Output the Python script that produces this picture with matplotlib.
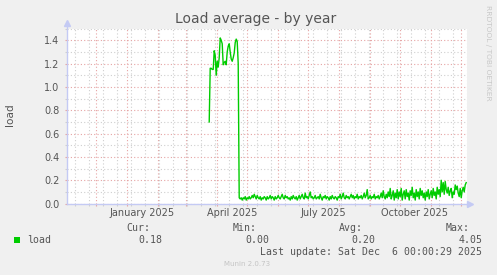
import pandas as pd
import matplotlib
matplotlib.use('Agg')
import matplotlib.pyplot as plt
import matplotlib.dates as mdates
from matplotlib.ticker import MultipleLocator, FixedLocator
from matplotlib.patches import Rectangle

# daily load averages, first sample on 2025-03-24
start = '2025-03-24 12:00'
load_high = [0.70, 1.16, 1.16, 1.15, 1.15, 1.31, 1.27, 1.10, 1.22, 1.17,
             1.25, 1.42, 1.40, 1.37, 1.19, 1.21, 1.22, 1.19, 1.30, 1.35,
             1.37, 1.30, 1.24, 1.22, 1.25, 1.29, 1.38, 1.41, 1.39, 1.20,
             0.05]
load_low = [0.04, 0.05, 0.03, 0.05, 0.04, 0.06, 0.03, 0.05, 0.04,
            0.06, 0.04, 0.05, 0.07, 0.05, 0.08, 0.06, 0.04, 0.07, 0.05,
            0.04, 0.06, 0.03, 0.05, 0.04, 0.06, 0.05, 0.03, 0.06, 0.04,
            0.05, 0.07, 0.04, 0.06, 0.05, 0.03, 0.06, 0.04, 0.05, 0.07,
            0.05, 0.04, 0.06, 0.08, 0.05, 0.04, 0.07, 0.05, 0.06, 0.04,
            0.05, 0.03, 0.06, 0.04, 0.07, 0.05, 0.04, 0.06, 0.03, 0.05,
            0.07, 0.04, 0.06, 0.08, 0.05, 0.04, 0.09, 0.05, 0.06, 0.04,
            0.07, 0.10, 0.05, 0.06, 0.04, 0.05, 0.07, 0.04, 0.05, 0.06,
            0.04, 0.08, 0.05, 0.03, 0.06, 0.05, 0.07, 0.04, 0.06, 0.05,
            0.03, 0.06, 0.04, 0.07, 0.05, 0.04, 0.06, 0.05, 0.03, 0.06,
            0.05, 0.08, 0.04, 0.06, 0.09, 0.05, 0.04, 0.07, 0.05, 0.06,
            0.04, 0.06, 0.08, 0.05, 0.07, 0.04, 0.06, 0.05, 0.08, 0.04,
            0.06, 0.05, 0.07, 0.04, 0.06, 0.09, 0.05, 0.07, 0.12, 0.04,
            0.05, 0.07, 0.04, 0.06, 0.05, 0.08, 0.04, 0.06, 0.05, 0.07,
            0.04, 0.06, 0.09, 0.05, 0.11, 0.06, 0.04, 0.08, 0.05, 0.10,
            0.06, 0.13, 0.04, 0.07, 0.11, 0.03, 0.09, 0.05, 0.12, 0.04,
            0.10, 0.06, 0.13, 0.03, 0.08, 0.11, 0.04, 0.12, 0.06, 0.09,
            0.03, 0.11, 0.07, 0.14, 0.05, 0.09, 0.03, 0.12, 0.06, 0.10,
            0.04, 0.13, 0.07, 0.11, 0.05, 0.09, 0.03, 0.10, 0.06, 0.12,
            0.04, 0.08, 0.11, 0.05, 0.13, 0.07, 0.10, 0.04, 0.14, 0.08,
            0.12, 0.06, 0.20, 0.10, 0.18, 0.08, 0.19, 0.12, 0.09, 0.14,
            0.07, 0.11, 0.13, 0.05, 0.10, 0.08, 0.16, 0.12, 0.15, 0.09,
            0.06, 0.13, 0.05, 0.11, 0.14, 0.10, 0.16, 0.18]
load = load_high + load_low
dates = pd.date_range(start, periods=len(load), freq='D')

month_labels = ['January 2025', 'April 2025', 'July 2025', 'October 2025']
label_dates = ['2025-01-16', '2025-04-16', '2025-07-17', '2025-10-16']

stat_names = ['Cur:', 'Min:', 'Avg:', 'Max:']
stat_values = ['0.18', '0.00', '0.20', '4.05']
last_update = 'Last update: Sat Dec  6 00:00:29 2025'

W, H = 497, 275
txt = '#555555'
mgrid = '#e6a4a4'
grid = '#cfcfcf'
axcol = '#c4caf4'

fig = plt.figure(figsize=(W / 100, H / 100), dpi=100, facecolor='#f0f0f0')
ax = fig.add_axes([67 / W, 71.4 / H, 400 / W, 175 / H])
ax.set_facecolor('white')

x0 = pd.Timestamp('2024-11-02 07:00')
x1 = x0 + pd.Timedelta(days=400)
ax.set_xlim(mdates.date2num(x0), mdates.date2num(x1))
ax.set_ylim(0, 1.5)

# grid
ax.xaxis.set_major_locator(mdates.MonthLocator())
ax.xaxis.set_minor_locator(FixedLocator(mdates.date2num(pd.date_range('2024-11-10', x1, freq='14D'))))
ax.yaxis.set_major_locator(MultipleLocator(0.2))
ax.yaxis.set_minor_locator(MultipleLocator(0.1))
ax.grid(which='minor', color=grid, linestyle=(0, (1, 2)), lw=0.8, zorder=0)
ax.grid(which='major', color=mgrid, linestyle=(0, (1, 2)), lw=0.8, zorder=0)
ax.set_axisbelow(True)
ax.tick_params(which='major', length=1.5, color=mgrid, width=0.8)
ax.tick_params(which='minor', length=1.5, color=grid, width=0.8)
ax.tick_params(axis='x', labelbottom=False)
ax.tick_params(axis='y', labelsize=7, labelcolor=txt, pad=3.8)
ax.set_yticklabels(['%.1f' % v for v in ax.get_yticks()])
for s in ax.spines.values():
    s.set_visible(False)

ax.plot(mdates.date2num(dates), load, color='#00cc00', lw=1.0, zorder=3)

# axes with arrows
ax.plot([0, 0], [0, 1.03], transform=ax.transAxes, color=axcol, lw=1, clip_on=False, zorder=4)
ax.plot([0, 1.008], [0, 0], transform=ax.transAxes, color=axcol, lw=1, clip_on=False, zorder=4)
ax.plot(0, 1.032, marker='^', ms=4, color=axcol, transform=ax.transAxes, clip_on=False)
ax.plot(1.008, 0, marker='>', ms=4, color=axcol, transform=ax.transAxes, clip_on=False)

for lab, d in zip(month_labels, label_dates):
    ax.text(mdates.date2num(pd.Timestamp(d)), -0.052, lab, transform=ax.get_xaxis_transform(),
            ha='center', va='center', fontsize=7, color=txt)

fig.text(256 / W, 1 - 19 / H, 'Load average - by year', ha='center', va='center', fontsize=10, color=txt)
fig.text(10.5 / W, 1 - 114.5 / H, 'load', rotation=90, ha='center', va='center', fontsize=7.6, color=txt)
fig.text(487.7 / W, 1 - 53.3 / H, 'RRDTOOL / TOBI OETIKER', rotation=270, ha='center', va='center',
         fontsize=5.4, color='#c8c8c8')

# legend
mono = dict(family='DejaVu Sans Mono', fontsize=7.1, color=txt, va='center', ha='right')
name_right = [150, 256.7, 362.7, 470]
value_right = [162.7, 269.3, 375.7, 482.3]
for n, v, xn, xv in zip(stat_names, stat_values, name_right, value_right):
    fig.text(xn / W, 1 - 227.7 / H, n, **mono)
    fig.text(xv / W, 1 - 239.7 / H, v, **mono)
fig.add_artist(Rectangle((14 / W, 1 - 242.7 / H), 6 / W, 5.7 / H, transform=fig.transFigure,
                         facecolor='#00cc00', edgecolor='none'))
fig.text(26.7 / W, 1 - 239.7 / H, 'load', **{**mono, 'ha': 'left'})
fig.text(482.3 / W, 1 - 251.7 / H, last_update, **mono)
fig.text(247.5 / W, 1 - 264 / H, 'Munin 2.0.73', ha='center', va='center', fontsize=5, color='#c4c4c4')

fig.savefig('out.png', dpi=100, facecolor=fig.get_facecolor())
